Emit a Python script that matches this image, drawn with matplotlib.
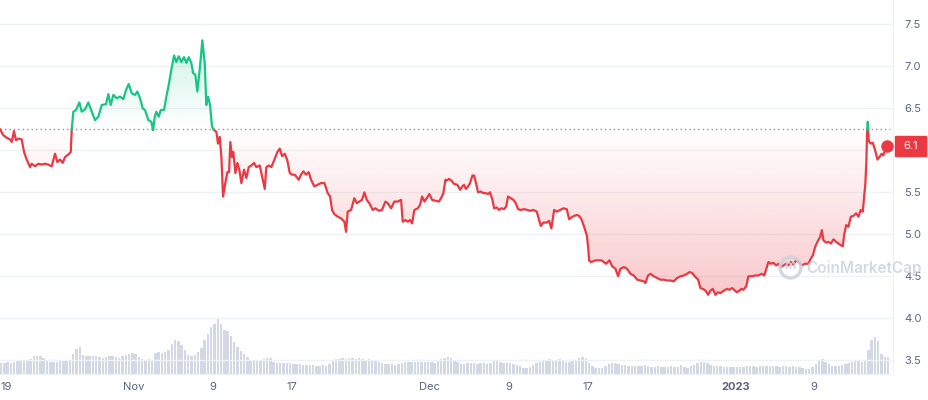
import numpy as np
import pandas as pd
import matplotlib
matplotlib.use('Agg')
import matplotlib.pyplot as plt
from matplotlib.patches import Rectangle
import matplotlib.transforms as mtrans

plt.rcParams['font.family'] = ['Inter', 'DejaVu Sans']

#%% data (days since 2022-10-19 00:00, price in USD)
start = pd.Timestamp('2022-10-19')
days = [-0.60, -0.26, 0.08, 0.42, 0.59, 0.82, 1.02, 1.26, 1.60, 1.84, 2.11, 2.45, 2.62, 2.95, 3.29,
        3.63, 3.97, 4.30, 4.65, 4.98, 5.22, 5.49, 5.76, 6.00, 6.33, 6.58, 6.68, 6.84, 7.11, 7.45,
        7.69, 8.03, 8.36, 8.71, 9.04, 9.38, 9.72, 10.16, 10.39, 10.63, 10.90, 11.24, 11.58, 11.91,
        12.19, 12.46, 12.77, 13.10, 13.33, 13.61, 13.88, 14.11, 14.45,
        14.75, 14.93, 15.10, 15.26, 15.50, 15.71, 16.04, 16.28, 16.52, 16.78, 17.06, 17.29, 17.53,
        17.80, 18.07, 18.31, 18.55, 18.81, 18.99, 19.22, 19.42, 19.66, 19.93, 20.17, 20.33, 20.51,
        20.71, 20.91, 21.12, 21.35, 21.52, 21.69, 21.86, 22.03, 22.26, 22.47, 22.64, 22.77, 22.94,
        23.07, 23.28, 23.48, 23.68, 23.89, 24.16, 24.39, 24.64, 24.90, 25.17, 25.41, 25.75, 25.99,
        26.26, 26.42, 26.67, 26.93, 27.28, 27.54, 27.78, 28.02, 28.29, 28.55, 28.80, 29.03, 29.30,
        29.57, 29.71, 29.94, 30.18, 30.45, 30.72, 30.96, 31.29, 31.64, 31.97, 32.31, 32.65, 32.89,
        33.09, 33.32, 33.67, 34.00, 34.34, 34.51, 34.68, 35.02, 35.35, 35.60, 35.86, 36.13, 36.37,
        36.61, 36.87, 37.22, 37.48, 37.83, 38.16, 38.50, 38.74, 39.08, 39.41, 39.76, 40.09, 40.26,
        40.53, 40.77, 41.00, 41.21, 41.44, 41.79, 42.02, 42.22, 42.46, 42.70, 42.96, 43.24, 43.57,
        43.92, 44.15, 44.38, 44.59,
        44.73, 44.96, 45.19, 45.47, 45.80, 46.08, 46.31, 46.48, 46.66, 46.89, 47.09, 47.33, 47.50,
        47.67, 47.90, 48.18, 48.44, 48.69, 48.92, 49.12, 49.36, 49.53, 49.80, 50.03, 50.27, 50.54,
        50.75, 50.95, 51.22, 51.49, 51.73, 51.96, 52.24, 52.57, 52.91, 53.18, 53.52, 53.86, 54.09,
        54.27, 54.53, 54.87, 55.11, 55.34, 55.62, 55.89, 56.22, 56.56, 56.90, 57.14, 57.37, 57.65,
        57.92, 58.15, 58.39, 58.66, 58.93, 59.07, 59.17, 59.34, 59.60,
        59.81, 60.15, 60.42, 60.66, 60.89, 61.23, 61.50, 61.84, 62.11, 62.34, 62.69, 63.02, 63.36,
        63.70, 64.04, 64.37, 64.72, 64.88, 65.15, 65.39, 65.73, 66.07, 66.40, 66.75, 67.08, 67.42,
        67.76, 68.10, 68.43, 68.78, 69.11, 69.35, 69.62, 69.89, 70.23, 70.46, 70.71, 70.97, 71.24,
        71.48, 71.72, 71.98, 72.26, 72.49, 72.84, 73.17, 73.40, 73.68, 73.95, 74.18, 74.42, 74.62,
        74.83, 75.10, 75.33, 75.68, 76.01, 76.35, 76.69, 76.93, 77.13, 77.36, 77.61, 77.87, 78.15,
        78.38, 78.62, 78.89, 79.16, 79.39, 79.63, 79.90, 80.17, 80.41, 80.75, 81.08, 81.42, 81.66,
        81.87, 82.10, 82.33, 82.61, 82.78, 82.94, 83.22, 83.45, 83.69, 83.96, 84.23, 84.46, 84.71,
        84.91, 85.04, 85.25, 85.48, 85.72, 85.99, 86.26, 86.49, 86.73, 86.94, 87.07, 87.20, 87.30,
        87.37, 87.44, 87.54, 87.75, 87.95, 88.19, 88.42, 88.62, 88.85, 89.01, 89.21, 89.35]
price = [6.25, 6.18, 6.15, 6.13, 6.10, 6.23, 6.12, 6.14, 6.13, 5.98, 5.89, 5.80, 5.84, 5.81, 5.84,
         5.83, 5.84, 5.83, 5.81, 5.96, 5.86, 5.89, 5.85, 5.92, 5.95, 5.98, 6.25, 6.46, 6.48, 6.57,
         6.46, 6.49, 6.57, 6.46, 6.36, 6.40, 6.54, 6.55, 6.67, 6.54, 6.66, 6.62, 6.64, 6.61,
         6.72, 6.79, 6.68, 6.66, 6.70, 6.62, 6.50, 6.48, 6.36,
         6.34, 6.24, 6.40, 6.46, 6.40, 6.48, 6.48, 6.64, 6.78, 6.96, 7.13, 7.05, 7.12,
         7.05, 7.11, 7.04, 7.11, 7.04, 6.92, 6.90, 6.70, 6.96, 7.31, 7.04, 6.54, 6.64,
         6.54, 6.28, 6.24, 6.22, 6.08, 6.16, 5.92, 5.45, 5.61, 5.74, 5.74, 6.10, 5.92,
         5.98, 5.73, 5.85, 5.77, 5.61, 5.77, 5.67, 5.80, 5.82, 5.85, 5.80, 5.82, 5.69,
         5.54, 5.80, 5.82, 5.80, 5.90, 5.98, 6.02, 5.93, 5.96, 5.88, 5.73, 5.71, 5.71,
         5.67, 5.65, 5.71, 5.75, 5.71, 5.74, 5.65, 5.57, 5.59, 5.61, 5.61, 5.49, 5.45,
         5.29, 5.24, 5.21, 5.19, 5.15, 5.03, 5.27, 5.29, 5.43, 5.37, 5.39, 5.41, 5.50,
         5.41, 5.37, 5.29, 5.31, 5.28, 5.29, 5.39, 5.37, 5.31, 5.39, 5.39, 5.41, 5.15,
         5.17, 5.15, 5.17, 5.13, 5.29, 5.31, 5.35, 5.45, 5.39, 5.43, 5.48, 5.41, 5.40,
         5.39, 5.43, 5.49, 5.65,
         5.64, 5.66, 5.64, 5.60, 5.59, 5.53, 5.57, 5.59, 5.54, 5.57, 5.61, 5.70, 5.70,
         5.62, 5.50, 5.51, 5.49, 5.49, 5.48, 5.50, 5.41, 5.31, 5.32, 5.29, 5.31, 5.30,
         5.33, 5.45, 5.43, 5.41, 5.37, 5.30, 5.29, 5.30, 5.29, 5.28, 5.29, 5.27, 5.17,
         5.10, 5.14, 5.14, 5.16, 5.07, 5.29, 5.27, 5.29, 5.31, 5.30, 5.18, 5.20, 5.22,
         5.23, 5.22, 5.18, 5.09, 4.99, 4.85, 4.69, 4.67, 4.68,
         4.69, 4.69, 4.69, 4.67, 4.65, 4.69, 4.62, 4.59, 4.50, 4.59, 4.61, 4.59, 4.53,
         4.51, 4.46, 4.45, 4.44, 4.42, 4.51, 4.53, 4.50, 4.48, 4.46, 4.46, 4.45, 4.45,
         4.44, 4.48, 4.50, 4.51, 4.53, 4.55, 4.54, 4.50, 4.46, 4.36, 4.35, 4.33, 4.28,
         4.33, 4.35, 4.28, 4.31, 4.30, 4.33, 4.35, 4.34, 4.36, 4.33, 4.31, 4.33, 4.35,
         4.34, 4.38, 4.50, 4.50, 4.51, 4.51, 4.53, 4.51, 4.58, 4.67, 4.65, 4.66, 4.63,
         4.65, 4.61, 4.63, 4.65, 4.63, 4.67, 4.64, 4.69, 4.67, 4.63, 4.65, 4.65, 4.71,
         4.75, 4.85, 4.91, 4.97, 5.05, 4.93, 4.90, 4.91, 4.89, 4.94, 4.91, 4.89, 4.87,
         4.86, 4.99, 5.11, 5.09, 5.21, 5.22, 5.25, 5.21, 5.29, 5.27, 5.45, 5.61, 5.88,
         6.20, 6.34, 6.11, 6.08, 6.09, 6.00, 5.89, 5.92, 5.96, 5.94, 6.00, 6.05]
price_label = '6.1'

# volume, 3 bars per day starting 2022-10-18 12:00 (relative units)
volume = [11, 11, 12, 11, 12, 13, 13, 13, 13, 15,
          18, 18, 18, 16, 13, 12, 12, 12, 13, 13,
          14, 13, 20, 25, 27, 19, 18, 18, 18, 18,
          17, 16, 17, 18, 18, 17, 16, 18, 19, 20,
          21, 20, 17, 15, 14, 15, 14, 21, 22, 21,
          22, 24, 30, 34, 33, 29, 24, 19, 18, 19,
          22, 26, 34, 40, 47, 50, 55, 50, 44, 43,
          38, 32, 27, 23, 20, 17, 14, 13, 13, 14,
          15, 16, 16, 12, 11, 11, 11, 11, 11, 10,
          10, 10, 9, 9, 9, 9, 8, 8, 9, 8,
          10, 13, 15, 15, 16, 15, 16, 16, 15, 16,
          15, 14, 15, 14, 13, 12, 11, 10, 10, 10,
          9, 10, 11, 12, 12, 12, 12, 12, 12, 12,
          12, 12, 11, 13, 15, 16, 17, 16, 14, 12,
          10, 10, 11, 11, 11, 10, 11, 11, 10, 11,
          13, 13, 12, 11, 11, 11, 10, 9, 8, 6,
          6, 7, 9, 11, 12, 13, 13, 15, 14, 13,
          15, 14, 12, 12, 13, 14, 16, 17, 16, 11,
          8, 6, 6, 6, 8, 10, 11, 11, 10, 9,
          9, 8, 8, 8, 8, 8, 9, 8, 7, 7,
          8, 7, 7, 7, 8, 7, 7, 9, 7, 6,
          8, 9, 11, 12, 12, 11, 9, 8, 8, 8,
          7, 7, 7, 7, 7, 7, 7, 8, 8, 8,
          7, 8, 8, 8, 8, 8, 8, 7, 8, 8,
          7, 8, 7, 7, 6, 5, 5, 7, 10, 14,
          15, 12, 10, 8, 8, 8, 9, 10, 11, 12,
          14, 13, 12, 14, 24, 34, 37, 33, 20, 17,
          17]

tick_dates = ['2022-10-19', '2022-11-01', '2022-11-09', '2022-11-17', '2022-12-01',
              '2022-12-09', '2022-12-17', '2023-01-01', '2023-01-09']
tick_labels = ['19', 'Nov', '9', '17', 'Dec', '9', '17', '2023', '9']
y_ticks = [3.5, 4.0, 4.5, 5.0, 5.5, 6.0, 6.5, 7.0, 7.5]

#%%
RED = '#ea3943'
GREEN = '#16c784'
t = np.array(days)
v = np.array(price)
base = v[0]
vol = np.array(volume, dtype=float)
t_vol = -0.5 + np.arange(len(vol)) / 3.0
tick_pos = [(pd.Timestamp(d) - start) / pd.Timedelta('1D') for d in tick_dates]

# insert baseline crossings so the colour switch happens on the baseline
tt, vv = [t[0]], [v[0]]
for i in range(1, len(t)):
    a, b = v[i - 1] - base, v[i] - base
    if a * b < 0:
        tt.append(t[i - 1] + (t[i] - t[i - 1]) * a / (a - b))
        vv.append(base)
    tt.append(t[i])
    vv.append(v[i])
tt, vv = np.array(tt), np.array(vv)

fig = plt.figure(figsize=(9.29, 4.0), dpi=100)
ax = fig.add_axes([0, 0.065, 893 / 929, 0.935])
vax = ax.twinx()
ax.set_zorder(vax.get_zorder() + 1)
ax.patch.set_visible(False)

xmin, xmax = -0.6, 90.0
ymin, ymax = 3.337, 7.79

# volume
vax.bar(t_vol, vol, width=0.25, color='#d3d9e4', linewidth=0)
vax.set_ylim(0, 374)
vax.set_xlim(xmin, xmax)
vax.axis('off')

# gradient fills clipped to the area between line and baseline
poly = ax.fill_between(tt, vv, base, color='none', linewidth=0)
clip = poly.get_paths()[0]
n = 256
g = np.zeros((n, 1, 4))
g[:, 0, :3] = matplotlib.colors.to_rgb(RED)
g[:, 0, 3] = np.linspace(0, 0.28, n)      # row 0 = top = baseline
im_r = ax.imshow(g, extent=[xmin, xmax, 4.25, base], origin='upper', aspect='auto', zorder=1,
                 interpolation='bilinear')
im_r.set_clip_path(clip, transform=ax.transData)
g2 = np.zeros((n, 1, 4))
g2[:, 0, :3] = matplotlib.colors.to_rgb(GREEN)
g2[:, 0, 3] = np.linspace(0.22, 0, n)     # row 0 = top, fades to baseline
im_g = ax.imshow(g2, extent=[xmin, xmax, base, 7.35], origin='upper', aspect='auto', zorder=1,
                 interpolation='bilinear')
im_g.set_clip_path(clip, transform=ax.transData)

# baseline
ax.plot([xmin, t[-1] + 0.35], [base, base], color='#8a94a6', lw=1, ls=(0, (1, 2.2)), zorder=2)

up = np.where(vv >= base, vv, np.nan)
dn = np.where(vv <= base, vv, np.nan)
ax.plot(tt, dn, color=RED, lw=1.6, solid_joinstyle='round', zorder=3)
ax.plot(tt, up, color=GREEN, lw=1.6, solid_joinstyle='round', zorder=3)
ax.plot(t[-1], v[-1], 'o', color=RED, ms=8, zorder=4)

ax.set_xlim(xmin, xmax)
ax.set_ylim(ymin, ymax)
ax.set_yticks(y_ticks)
# the 6.0 label sits behind the current price tag
ax.set_yticklabels(['' if y == 6.0 else f'{y:.1f}' for y in y_ticks])
ax.yaxis.tick_right()
ax.yaxis.grid(True, color='#eff2f5', lw=1)
ax.set_axisbelow(True)
ax.set_xticks(tick_pos)
ax.set_xticklabels(tick_labels)
ax.tick_params(axis='both', length=0, labelsize=8, labelcolor='#58667e')
ax.tick_params(axis='y', pad=8)
ax.tick_params(axis='x', pad=6)
for lab in ax.get_xticklabels():
    if lab.get_text() == '2023':
        lab.set_fontweight('bold')
for s in ['top', 'left']:
    ax.spines[s].set_visible(False)
for s in ['right', 'bottom']:
    ax.spines[s].set_color('#eff2f5')

# current price tag
trans = mtrans.blended_transform_factory(ax.transAxes, ax.transData)
ax.add_patch(Rectangle((1.0022, v[-1] - 0.119), 0.0347, 0.238, transform=trans,
                       color=RED, clip_on=False, zorder=5))
ax.text(1.0196, v[-1], price_label, transform=trans, color='white', fontsize=8,
        ha='center', va='center', zorder=6)

# watermark
ax.plot(0.885, 0.286, 'o', ms=15, mfc='none', mec='#ccd3df', mew=2.5, alpha=0.85,
        transform=ax.transAxes, zorder=7, clip_on=False)
ax.text(0.885, 0.29, 'm', transform=ax.transAxes, color='#ccd3df', fontsize=9,
        fontweight='bold', ha='center', va='center', alpha=0.85, zorder=7)
ax.text(0.903, 0.283, 'CoinMarketCap', transform=ax.transAxes, color='#ccd3df',
        fontsize=11, fontweight='semibold', ha='left', va='center', alpha=0.85, zorder=7,
        clip_on=False)

plt.savefig('out.png', dpi=100)
plt.close()
